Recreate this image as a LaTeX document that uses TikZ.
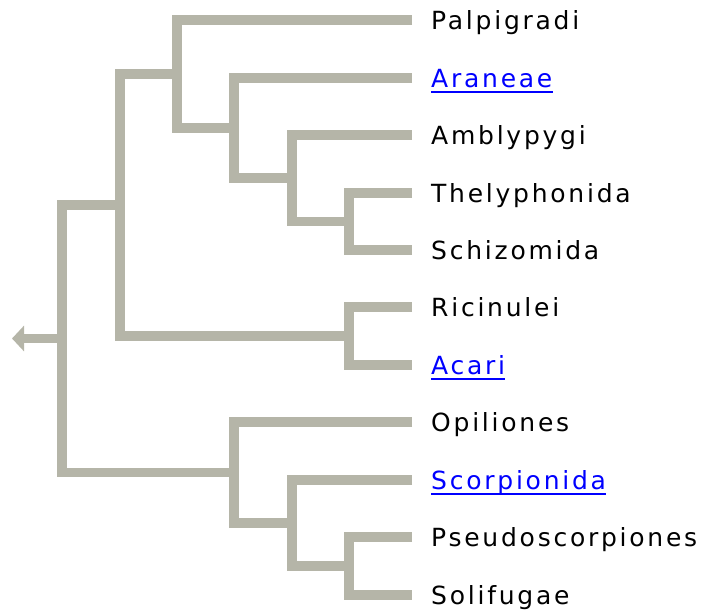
\documentclass[tikz,border=0pt]{standalone}
\usepackage{fontspec}
\setmainfont{DejaVu Sans}[LetterSpace=11]
\usetikzlibrary{arrows.meta}
\definecolor{branchc}{RGB}{181,181,168}
\definecolor{linkblue}{RGB}{0,0,255}
\begin{document}
\begin{tikzpicture}[x=1pt,y=-1pt,
  branch/.style={draw=branchc, line width=9.5pt, line cap=butt, line join=miter},
  taxon/.style={anchor=base west, inner sep=0pt, font=\fontsize{25}{30}\selectfont},
  link/.style={taxon, text=linkblue},
  uline/.style={draw=linkblue, line width=1.6pt}]
\useasboundingbox (0,0) rectangle (705,616);
% leaf ends
\coordinate (e1) at (412,20);
\coordinate (e2) at (412,78);
\coordinate (e3) at (412,135);
\coordinate (e4) at (412,193);
\coordinate (e5) at (412,250);
\coordinate (e6) at (412,307);
\coordinate (e7) at (412,365);
\coordinate (e8) at (412,422);
\coordinate (e9) at (412,480);
\coordinate (e10) at (412,537);
\coordinate (e11) at (412,595);
% internal nodes
\coordinate (G) at (349,221.5);
\coordinate (F) at (292,178);
\coordinate (E) at (234,128);
\coordinate (C) at (177,74);
\coordinate (D) at (349,336);
\coordinate (A) at (120,205);
\coordinate (I) at (349,566);
\coordinate (H) at (292,523);
\coordinate (B) at (234,472.5);
\coordinate (R) at (62,338.5);
\coordinate (tip) at (12,338.5);
% branches
\draw[branch] (e4) -| (G) |- (e5);
\draw[branch] (e3) -| (F) |- (G);
\draw[branch] (e2) -| (E) |- (F);
\draw[branch] (e1) -| (C) |- (E);
\draw[branch] (e6) -| (D) |- (e7);
\draw[branch] (C) -| (A) |- (D);
\draw[branch] (e10) -| (I) |- (e11);
\draw[branch] (e9) -| (H) |- (I);
\draw[branch] (e8) -| (B) |- (H);
\draw[branch] (A) -| (R) |- (B);
\draw[branch, -{Triangle[length=12pt,width=25pt]}] (R) -- (tip);
% labels
\node[taxon] (l1) at (431,29.5) {Palpigradi};
\node[link]  (l2) at (431,87.5) {Araneae};
\node[taxon] (l3) at (431,144.5) {Amblypygi};
\node[taxon] (l4) at (431,202.5) {Thelyphonida};
\node[taxon] (l5) at (431,259.5) {Schizomida};
\node[taxon] (l6) at (431,316.5) {Ricinulei};
\node[link]  (l7) at (431,374.5) {Acari};
\node[taxon] (l8) at (431,431.5) {Opiliones};
\node[link]  (l9) at (431,489.5) {Scorpionida};
\node[taxon] (l10) at (431,546.5) {Pseudoscorpiones};
\node[taxon] (l11) at (431,604.5) {Solifugae};
\draw[uline] ([yshift=-4.5pt]l2.base west) -- ([yshift=-4.5pt]l2.base east);
\draw[uline] ([yshift=-4.5pt]l7.base west) -- ([yshift=-4.5pt]l7.base east);
\draw[uline] ([yshift=-4.5pt]l9.base west) -- ([yshift=-4.5pt]l9.base east);
\end{tikzpicture}
\end{document}
